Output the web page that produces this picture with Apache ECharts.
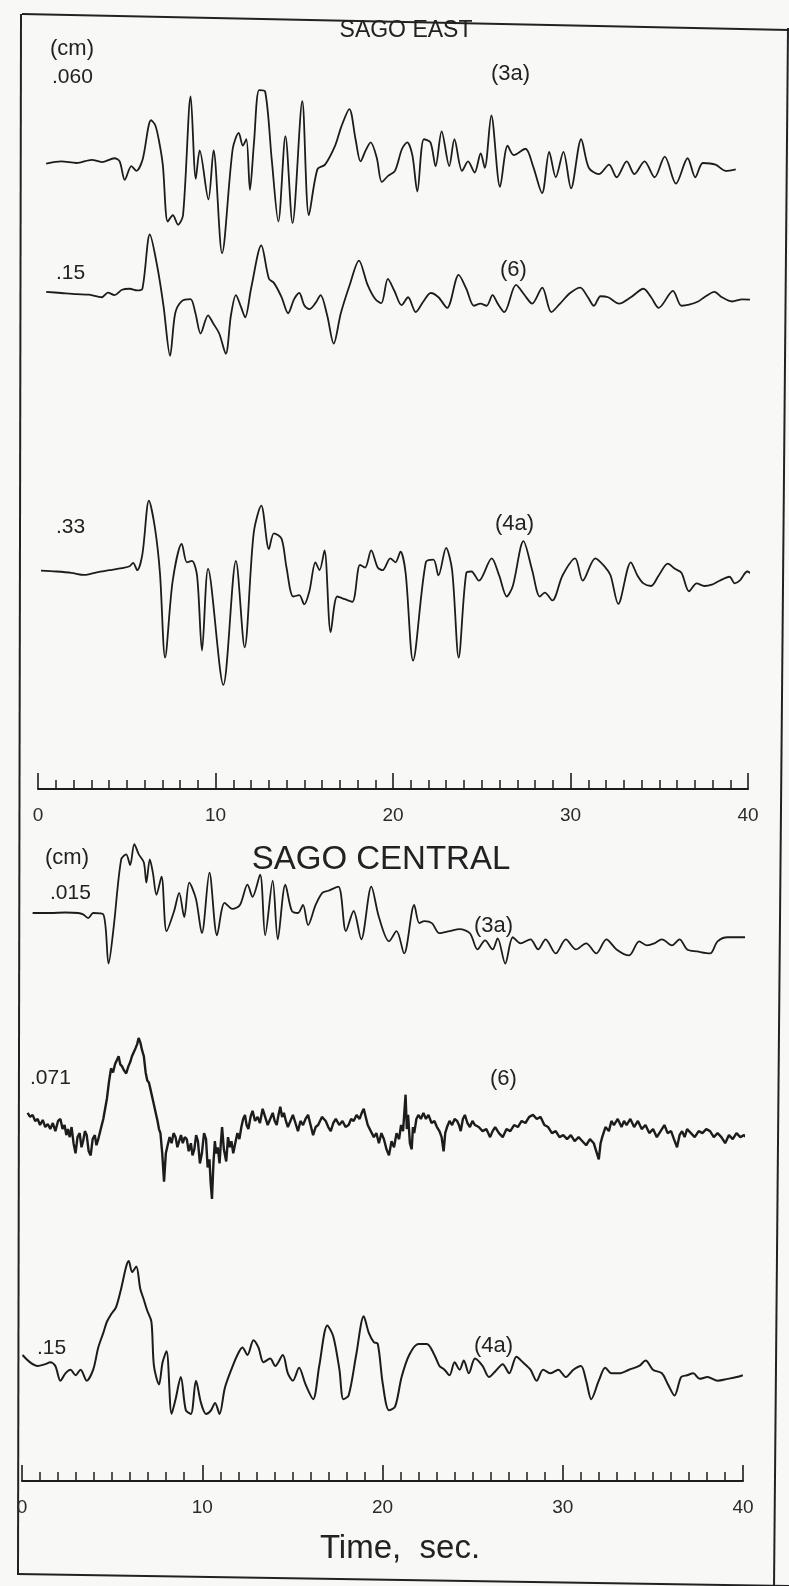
<!DOCTYPE html>
<html><head><meta charset="utf-8">
<script src="https://cdn.jsdelivr.net/npm/echarts@6/dist/echarts.min.js"></script>
<style>html,body{margin:0;padding:0;background:#f8f8f6}#c{width:789px;height:1586px}</style>
</head><body><div id="c"></div>
<script>
// time (s), deflection (relative units, up positive)
const eastTrace3a = [[0.46,-0.7],[1.31,1.7],[2.17,0],[3.03,3.3],[3.6,1],[4.31,5],[4.6,1.7],[4.89,-17.7],[5.26,-3.3],[5.54,-8.3],[5.89,3.3],[6.37,45],[6.6,40],[6.8,25],[7.03,-1.7],[7.31,-61.7],[7.6,-55],[7.89,-65],[8.17,-55],[8.6,70],[8.89,-16.7],[9.11,13.3],[9.6,-38.3],[9.89,13.3],[10.37,-95],[10.97,15],[11.31,31.7],[11.54,18.3],[11.74,25],[11.94,-28.3],[12.17,21.7],[12.46,76.7],[12.8,75],[13.17,3.3],[13.54,-61.7],[13.94,28.3],[14.34,-63.3],[14.89,65],[15.26,-55],[15.74,-6.7],[16.17,-1.7],[16.74,18.3],[17.09,38.3],[17.54,56.7],[17.89,25],[18.17,1.7],[18.46,13.3],[18.74,21.7],[19.09,5],[19.37,-20],[19.74,-13.3],[20.11,-8.3],[20.51,15],[20.8,21.7],[21.09,8.3],[21.37,-30],[21.74,25],[22.11,21.7],[22.4,-3.3],[22.74,33.3],[23.17,-3.3],[23.46,25],[23.89,-8.3],[24.23,1.7],[24.6,-10],[24.94,10],[25.17,-5],[25.54,50],[26.03,-25],[26.46,18.3],[26.8,8.3],[27.46,15],[27.89,-3.3],[28.4,-31.7],[28.8,11.7],[29.17,-15],[29.6,11.7],[30.03,-26.7],[30.6,25],[31.03,-5],[31.6,-11.7],[32.17,-1.7],[32.6,-15],[33.17,1.7],[33.6,-11.7],[34.17,1.7],[34.74,-15],[35.31,6.7],[35.94,-21.7],[36.6,5],[37.03,-15],[37.46,0],[38.17,-1.7],[38.74,-8.3],[39.31,-6.7]];
const eastTrace6 = [[0.46,1.1],[1.31,0],[2.17,-1.1],[2.88,-1.7],[3.59,-4.2],[3.94,0.4],[4.31,-2.1],[4.73,3.2],[5.16,4.2],[5.59,2.5],[5.88,4.2],[6.3,57.8],[6.73,25.2],[7.07,-12.6],[7.44,-62],[7.73,-20],[8.1,-8],[8.59,-6],[8.87,-20],[9.16,-40],[9.58,-22],[9.87,-30],[10.21,-40],[10.58,-60],[10.87,-22],[11.15,-2],[11.44,-14],[11.67,-24],[12.01,5],[12.58,47],[13.01,14],[13.29,10],[13.72,-4],[14.09,-20],[14.43,-6],[14.72,0],[15.0,-12],[15.29,-16],[15.63,-10],[15.92,-2],[16.29,-22],[16.66,-50],[17.06,-20],[17.57,8.4],[18.08,32],[18.57,8],[19.0,-6],[19.34,-10],[19.71,14],[20.08,2],[20.48,-12],[20.85,-4.2],[21.28,-18.9],[21.71,-8.4],[22.13,0],[22.56,-4.2],[23.05,-14.7],[23.7,18],[24.13,4.2],[24.56,-12.6],[24.93,-10.5],[25.27,-12.6],[25.61,-2.1],[25.9,-10.5],[26.27,-18.9],[26.93,8],[27.41,-2],[27.84,-10.5],[28.41,5.3],[28.92,-18.9],[29.41,-10.5],[29.98,0],[30.55,5.3],[30.98,-4.2],[31.32,-12.6],[31.69,-3.2],[32.12,-4.2],[32.74,-10.5],[33.4,-4.2],[34.11,4.2],[34.54,-4.2],[34.97,-14.7],[35.77,2.1],[36.25,-12.6],[36.68,-11.6],[37.19,-8.4],[37.54,-4.2],[38.11,1.1],[38.53,-4.2],[39.1,-8.4],[39.67,-6.3],[40.33,-6.7]];
const eastTrace4a = [[0.17,0.8],[1.03,0],[1.88,-1.3],[2.6,-3.4],[3.31,-0.8],[4.02,1.3],[4.73,3.4],[5.16,5.2],[5.36,8.6],[5.59,1.3],[5.88,16.9],[6.25,70],[6.59,42.9],[6.87,-1.3],[7.16,-85],[7.59,-9.1],[8.1,27.3],[8.39,9.1],[8.67,10.4],[8.96,-3.9],[9.24,-78],[9.58,2.6],[10.44,-112],[11.15,10.4],[11.64,-75],[12.15,37.7],[12.58,65],[13.01,22.1],[13.29,37.7],[13.72,32.5],[14.0,3.9],[14.38,-24.7],[14.72,-23.4],[15.0,-32.5],[15.29,-19.5],[15.63,9.1],[15.86,1.3],[16.14,20.8],[16.49,-60],[16.86,-24.7],[17.28,-27.3],[17.71,-29.9],[18.14,6.5],[18.43,3.9],[18.77,20.8],[19.14,3.9],[19.42,1.3],[19.85,13],[20.14,9.1],[20.42,19.5],[20.71,-1.3],[21.13,-88],[21.85,9.1],[22.28,11.7],[22.56,-3.9],[22.99,23.4],[23.33,1.3],[23.7,-85],[24.13,-1.3],[24.42,0],[24.84,-9.1],[25.56,13],[25.98,-3.9],[26.41,-24.7],[26.75,-14.3],[27.35,30],[27.84,1.3],[28.27,-24.7],[28.55,-20.8],[28.98,-28.6],[29.55,-3.9],[30.26,13],[30.69,-9.1],[31.4,13],[31.97,3.9],[32.26,-3.9],[32.69,-32],[33.4,9.1],[33.77,-3.9],[34.11,-11.7],[34.54,-14.3],[34.97,-3.9],[35.48,7.8],[35.88,2.6],[36.25,-1.3],[36.68,-19.5],[37.11,-11.7],[37.54,-14.3],[37.96,-13],[38.39,-9.1],[38.96,-5.2],[39.25,-11.7],[39.53,-9.1],[39.96,0],[40.5,-8.6]];
const centralTrace3a = [[0.59,0],[1.57,0],[2.41,0.5],[3.11,0],[3.39,-1.4],[3.67,-5],[3.95,0],[4.51,-1.4],[4.8,-50],[5.08,-14.9],[5.5,52.7],[5.78,58],[6.0,47.3],[6.23,68],[6.48,58],[6.76,50],[6.9,30],[7.09,53],[7.26,40],[7.46,18],[7.74,36],[8.02,-18],[8.44,2],[8.72,20],[9.0,-4],[9.28,30],[9.65,14],[9.98,-20],[10.4,40],[10.82,-22],[11.24,10],[11.67,4],[12.09,8],[12.51,28],[12.79,16],[13.21,38],[13.49,-22],[13.91,32],[14.19,-26],[14.61,28],[14.97,2],[15.31,0],[15.59,8],[15.87,-12],[16.29,8],[16.66,20],[16.99,22],[17.55,26],[17.97,-18],[18.4,2],[18.82,-26],[19.38,26],[19.8,-4],[20.36,-28],[20.78,-18],[21.2,-40],[21.76,8],[22.04,-10],[22.32,-8],[22.74,-10],[23.16,-20],[23.72,-18],[24.28,-16],[24.85,-20],[25.27,-36],[25.69,-27],[26.11,-36],[26.39,-25],[26.81,-50],[27.23,-24],[27.65,-30],[28.21,-26],[28.63,-36],[29.05,-26],[29.61,-40],[30.17,-26],[30.73,-36],[31.3,-30],[31.86,-40],[32.42,-26],[32.98,-36],[33.68,-42],[34.24,-28],[34.66,-32],[35.08,-30],[35.5,-26],[36.06,-32],[36.48,-26],[36.9,-36],[37.46,-38],[38.17,-40],[38.59,-28],[39.15,-24],[39.71,-24],[40.69,-24]];
const centralTrace6 = [[0.31,10],[0.45,6],[0.59,8],[0.73,2],[0.87,4],[1.0,-2],[1.15,3],[1.29,-4],[1.43,-1],[1.57,-6],[1.71,0],[1.85,-8],[2.0,2],[2.13,4],[2.25,-6],[2.36,-2],[2.46,-12],[2.55,-6],[2.65,-14],[2.75,-4],[2.86,-20],[2.97,-30],[3.08,-14],[3.2,-10],[3.3,-24],[3.39,-18],[3.49,-8],[3.59,-12],[3.7,-28],[3.81,-32],[3.92,-16],[4.04,-12],[4.13,-22],[4.23,-16],[4.37,-6],[4.51,4],[4.71,24],[4.82,40],[4.94,54],[5.05,50],[5.16,58],[5.26,62],[5.36,66],[5.45,58],[5.55,56],[5.66,52],[5.78,49],[5.9,56],[6.0,60],[6.1,66],[6.2,70],[6.3,74],[6.39,78],[6.47,84],[6.56,80],[6.66,72],[6.76,66],[6.86,50],[6.95,42],[7.04,40],[7.12,34],[7.22,26],[7.32,18],[7.42,10],[7.52,2],[7.6,-6],[7.68,-10],[7.78,-30],[7.88,-58],[7.98,-30],[8.08,-22],[8.19,-14],[8.3,-20],[8.41,-10],[8.52,-14],[8.62,-24],[8.72,-18],[8.82,-12],[8.92,-20],[9.03,-14],[9.14,-16],[9.25,-28],[9.37,-20],[9.46,-32],[9.56,-26],[9.66,-12],[9.76,-18],[9.87,-40],[9.98,-30],[10.1,-10],[10.21,-16],[10.3,-44],[10.4,-36],[10.47,-60],[10.54,-75],[10.62,-40],[10.7,-18],[10.77,-30],[10.86,-24],[10.96,-40],[11.03,-20],[11.1,-4],[11.2,-26],[11.33,-38],[11.43,-14],[11.53,-24],[11.62,-18],[11.72,-30],[11.83,-20],[11.95,-10],[12.06,-16],[12.17,-4],[12.27,4],[12.37,8],[12.46,-2],[12.56,-6],[12.68,6],[12.79,12],[12.93,2],[13.07,6],[13.2,0],[13.35,14],[13.49,6],[13.63,-2],[13.77,4],[13.91,10],[14.02,2],[14.13,-2],[14.23,8],[14.33,16],[14.43,6],[14.53,10],[14.64,2],[14.75,-4],[14.89,2],[15.03,8],[15.17,0],[15.31,-8],[15.45,2],[15.59,-2],[15.73,4],[15.87,8],[16.01,-2],[16.15,-12],[16.29,-4],[16.43,-2],[16.64,6],[16.85,2],[16.99,-4],[17.13,-8],[17.27,0],[17.41,4],[17.6,-2],[17.78,2],[17.95,-4],[18.12,-2],[18.26,4],[18.4,2],[18.56,8],[18.73,4],[18.85,10],[18.96,14],[19.07,6],[19.18,-2],[19.35,-8],[19.52,-14],[19.66,-10],[19.8,-20],[19.94,-10],[20.08,-16],[20.22,-26],[20.36,-32],[20.5,-18],[20.64,-24],[20.78,-10],[20.92,-16],[21.03,-2],[21.14,-8],[21.21,10],[21.28,28],[21.35,-6],[21.42,8],[21.52,-20],[21.62,-26],[21.69,-4],[21.76,-10],[21.88,4],[21.99,8],[22.13,4],[22.27,10],[22.41,4],[22.55,8],[22.72,0],[22.88,2],[23.02,-4],[23.16,-8],[23.28,-14],[23.39,-28],[23.48,-10],[23.58,-4],[23.72,2],[23.86,-2],[24.0,4],[24.14,2],[24.24,-2],[24.34,-8],[24.46,4],[24.57,8],[24.71,0],[24.85,-4],[24.99,2],[25.13,-2],[25.34,-4],[25.55,-8],[25.76,-6],[25.97,-14],[26.11,-8],[26.25,-4],[26.46,-10],[26.67,-14],[26.88,-6],[27.09,-8],[27.3,-2],[27.51,-4],[27.72,2],[27.93,0],[28.14,6],[28.35,8],[28.56,4],[28.77,6],[28.98,-2],[29.19,-4],[29.4,-10],[29.61,-8],[29.82,-14],[30.03,-12],[30.24,-16],[30.45,-12],[30.66,-18],[30.88,-14],[31.09,-18],[31.3,-22],[31.51,-16],[31.72,-20],[31.86,-28],[32.0,-36],[32.1,-20],[32.19,-14],[32.37,-4],[32.56,-8],[32.7,2],[32.84,-2],[33.05,4],[33.26,-4],[33.4,2],[33.54,-2],[33.75,4],[33.96,-4],[34.17,2],[34.38,-6],[34.59,-2],[34.8,-10],[35.01,-6],[35.22,-14],[35.43,-8],[35.64,-2],[35.82,-10],[36.01,-8],[36.17,-16],[36.34,-24],[36.48,-12],[36.62,-8],[36.76,-14],[36.9,-6],[37.11,-10],[37.32,-14],[37.54,-8],[37.75,-10],[37.96,-6],[38.17,-8],[38.38,-14],[38.59,-10],[38.8,-14],[39.01,-20],[39.22,-12],[39.43,-16],[39.64,-10],[39.85,-14],[40.06,-12],[40.27,-16],[40.55,-14]];
const centralTrace4a = [[0.03,5],[0.45,-2.3],[0.87,-5.9],[1.29,-4.1],[1.57,-2.3],[1.85,-5.9],[2.13,-20.5],[2.41,-13.2],[2.69,-9.6],[2.97,-15.1],[3.25,-9.6],[3.59,-20.5],[3.95,-9.6],[4.23,12.3],[4.51,26.9],[4.71,37.9],[4.94,45.2],[5.22,52.5],[5.5,70.7],[5.78,92.6],[5.92,98.1],[6.11,87.1],[6.34,92.6],[6.56,70.7],[6.76,59.7],[6.95,48.8],[7.18,37.9],[7.32,-5.9],[7.6,-24.2],[7.8,-2.3],[8.02,8.7],[8.3,-53.4],[8.52,-38.8],[8.81,-16.9],[9.09,-49.8],[9.37,-53.4],[9.65,-20.5],[9.93,-42.5],[10.21,-53.4],[10.49,-49.8],[10.71,-42.5],[10.96,-53.4],[11.25,-27.9],[11.61,-9.6],[11.95,5],[12.23,12.3],[12.51,5],[12.84,19.6],[13.12,12.3],[13.4,-2.3],[13.77,1.4],[14.05,-5.9],[14.47,5],[14.75,-13.2],[15.03,-20.5],[15.37,-7.8],[15.73,-24.2],[16.15,-38.8],[16.49,-5.9],[16.94,34.2],[17.27,23.3],[17.61,-9.6],[17.83,-38.8],[18.12,-35.2],[18.54,5],[18.96,43.3],[19.24,26.9],[19.52,17.8],[19.74,15.9],[20.02,-24.2],[20.36,-49.8],[20.7,-46.2],[21.06,-16.9],[21.48,5],[21.99,15.9],[22.46,15.9],[22.88,5],[23.16,-5.9],[23.44,-9.6],[23.72,-15.1],[24.0,-2.3],[24.28,-9.6],[24.51,-0.5],[24.79,-13.2],[25.13,1.4],[25.55,-5.9],[25.91,-16.9],[26.25,-11.4],[26.67,-4.1],[27.03,-13.2],[27.43,3.2],[27.79,-2.3],[28.21,-9.6],[28.55,-20.5],[28.91,-9.6],[29.33,-13.2],[29.75,-9.6],[30.17,-16.9],[30.59,-9.6],[31.01,-5.9],[31.3,-20.5],[31.58,-38.8],[32.0,-20.5],[32.36,-7.8],[32.7,-13.2],[33.12,-13.2],[33.68,-9.6],[34.24,-5.9],[34.6,-0.5],[35.0,-9.6],[35.5,-13.2],[35.84,-24.2],[36.2,-35.2],[36.57,-16.9],[36.9,-15.1],[37.24,-13.2],[37.6,-18.7],[38.03,-16.9],[38.59,-20.5],[39.15,-18.7],[39.65,-16.9],[39.99,-15.1]];
const tickLabels = ['0','10','20','30','40'];
const traceNames = ['(3a)','(6)','(4a)','(3a)','(6)','(4a)'];
const peakLabels = ['.060','.15','.33','.015','.071','.15'];
const panelTitles = ['SAGO EAST','SAGO CENTRAL'];
const axisTitle = 'Time,  sec.';

const traces = [eastTrace3a, eastTrace6, eastTrace4a, centralTrace3a, centralTrace6, centralTrace4a];
// layout (pixels)
const grids = [
  {left:38, width:710, top:68, height:190, r:100},
  {left:38, width:710, top:212, height:162, r:80},
  {left:38, width:710, top:450, height:243, r:120},
  {left:22, width:721, top:822, height:182, r:90},
  {left:22, width:721, top:1032, height:182, r:90},
  {left:22, width:721, top:1249, height:222, r:110}
];
const axisGrids = [
  {left:38, width:710, top:700, height:89},
  {left:22, width:721, top:1400, height:81}
];
const lineW = [1.8,1.8,1.8,1.8,2.4,2.0];
const smoothK = [0.3,0.3,0.3,0.3,0,0.3];
const FONT = "'Liberation Sans','DejaVu Sans',sans-serif";
const ink = '#1c1c1c';

const option = {
  backgroundColor:'#f8f8f6', animation:false,
  grid: grids.map(g=>({left:g.left,width:g.width,top:g.top,height:g.height}))
        .concat(axisGrids.map(g=>({left:g.left,width:g.width,top:g.top,height:g.height}))),
  xAxis: grids.map((g,i)=>({type:'value',gridIndex:i,min:0,max:40,show:false}))
        .concat(axisGrids.map((g,i)=>({
          type:'value',gridIndex:grids.length+i,min:0,max:40,interval:10,position:'bottom',
          axisLine:{show:true,lineStyle:{color:ink,width:2}},
          axisTick:{show:true,inside:true,length:16,lineStyle:{color:ink,width:1.6}},
          minorTick:{show:true,splitNumber:10,length:9,lineStyle:{color:ink,width:1.5}},
          splitLine:{show:false},
          axisLabel:{show:true,margin:17,fontSize:19,fontFamily:FONT,color:'#2a2a2a',
            formatter:v=>tickLabels[Math.round(v/10)]}
        }))),
  yAxis: grids.map((g,i)=>({type:'value',gridIndex:i,min:-g.r,max:g.r,show:false}))
        .concat(axisGrids.map((g,i)=>({type:'value',gridIndex:grids.length+i,min:0,max:1,show:false}))),
  series: traces.map((d,i)=>({
    type:'line',xAxisIndex:i,yAxisIndex:i,data:d,showSymbol:false,symbol:'none',
    smooth:smoothK[i],clip:false,
    lineStyle:{color:ink,width:lineW[i]}
  })),
  graphic: [
    {type:'polyline',shape:{points:[[22,14],[789,30]]},style:{stroke:'#222',lineWidth:2,fill:null}},
    {type:'polyline',shape:{points:[[21,14],[18,1574]]},style:{stroke:'#222',lineWidth:2,fill:null}},
    {type:'polyline',shape:{points:[[788,28],[774,1586]]},style:{stroke:'#222',lineWidth:2,fill:null}},
    {type:'polyline',shape:{points:[[17,1574],[789,1586]]},style:{stroke:'#222',lineWidth:2,fill:null}},
    txt(panelTitles[0],406,31,23,'center'),
    txt('(cm)',50,49,22,'left'),
    txt(peakLabels[0],52,77,21,'left'),
    txt(traceNames[0],491,74,22,'left'),
    txt(peakLabels[1],56,273,21,'left'),
    txt(traceNames[1],500,270,22,'left'),
    txt(peakLabels[2],56,527,21,'left'),
    txt(traceNames[2],495,524,22,'left'),
    txt('(cm)',45,858,22,'left'),
    txt(panelTitles[1],381,860,33,'center'),
    txt(peakLabels[3],50,893,21,'left'),
    txt(traceNames[3],474,926,22,'left'),
    txt(peakLabels[4],30,1078,21,'left'),
    txt(traceNames[4],490,1079,22,'left'),
    txt(peakLabels[5],37,1348,21,'left'),
    txt(traceNames[5],474,1346,22,'left'),
    txt(axisTitle,400,1549,33,'center')
  ]
};
function txt(t,x,y,s,a){
  return {type:'text',x:x,y:y,style:{text:t,fontSize:s,fontFamily:FONT,fill:'#222',textAlign:a,textVerticalAlign:'middle'}};
}
const chart = echarts.init(document.getElementById('c'),null,{renderer:'canvas'});
chart.setOption(option);
</script></body></html>
